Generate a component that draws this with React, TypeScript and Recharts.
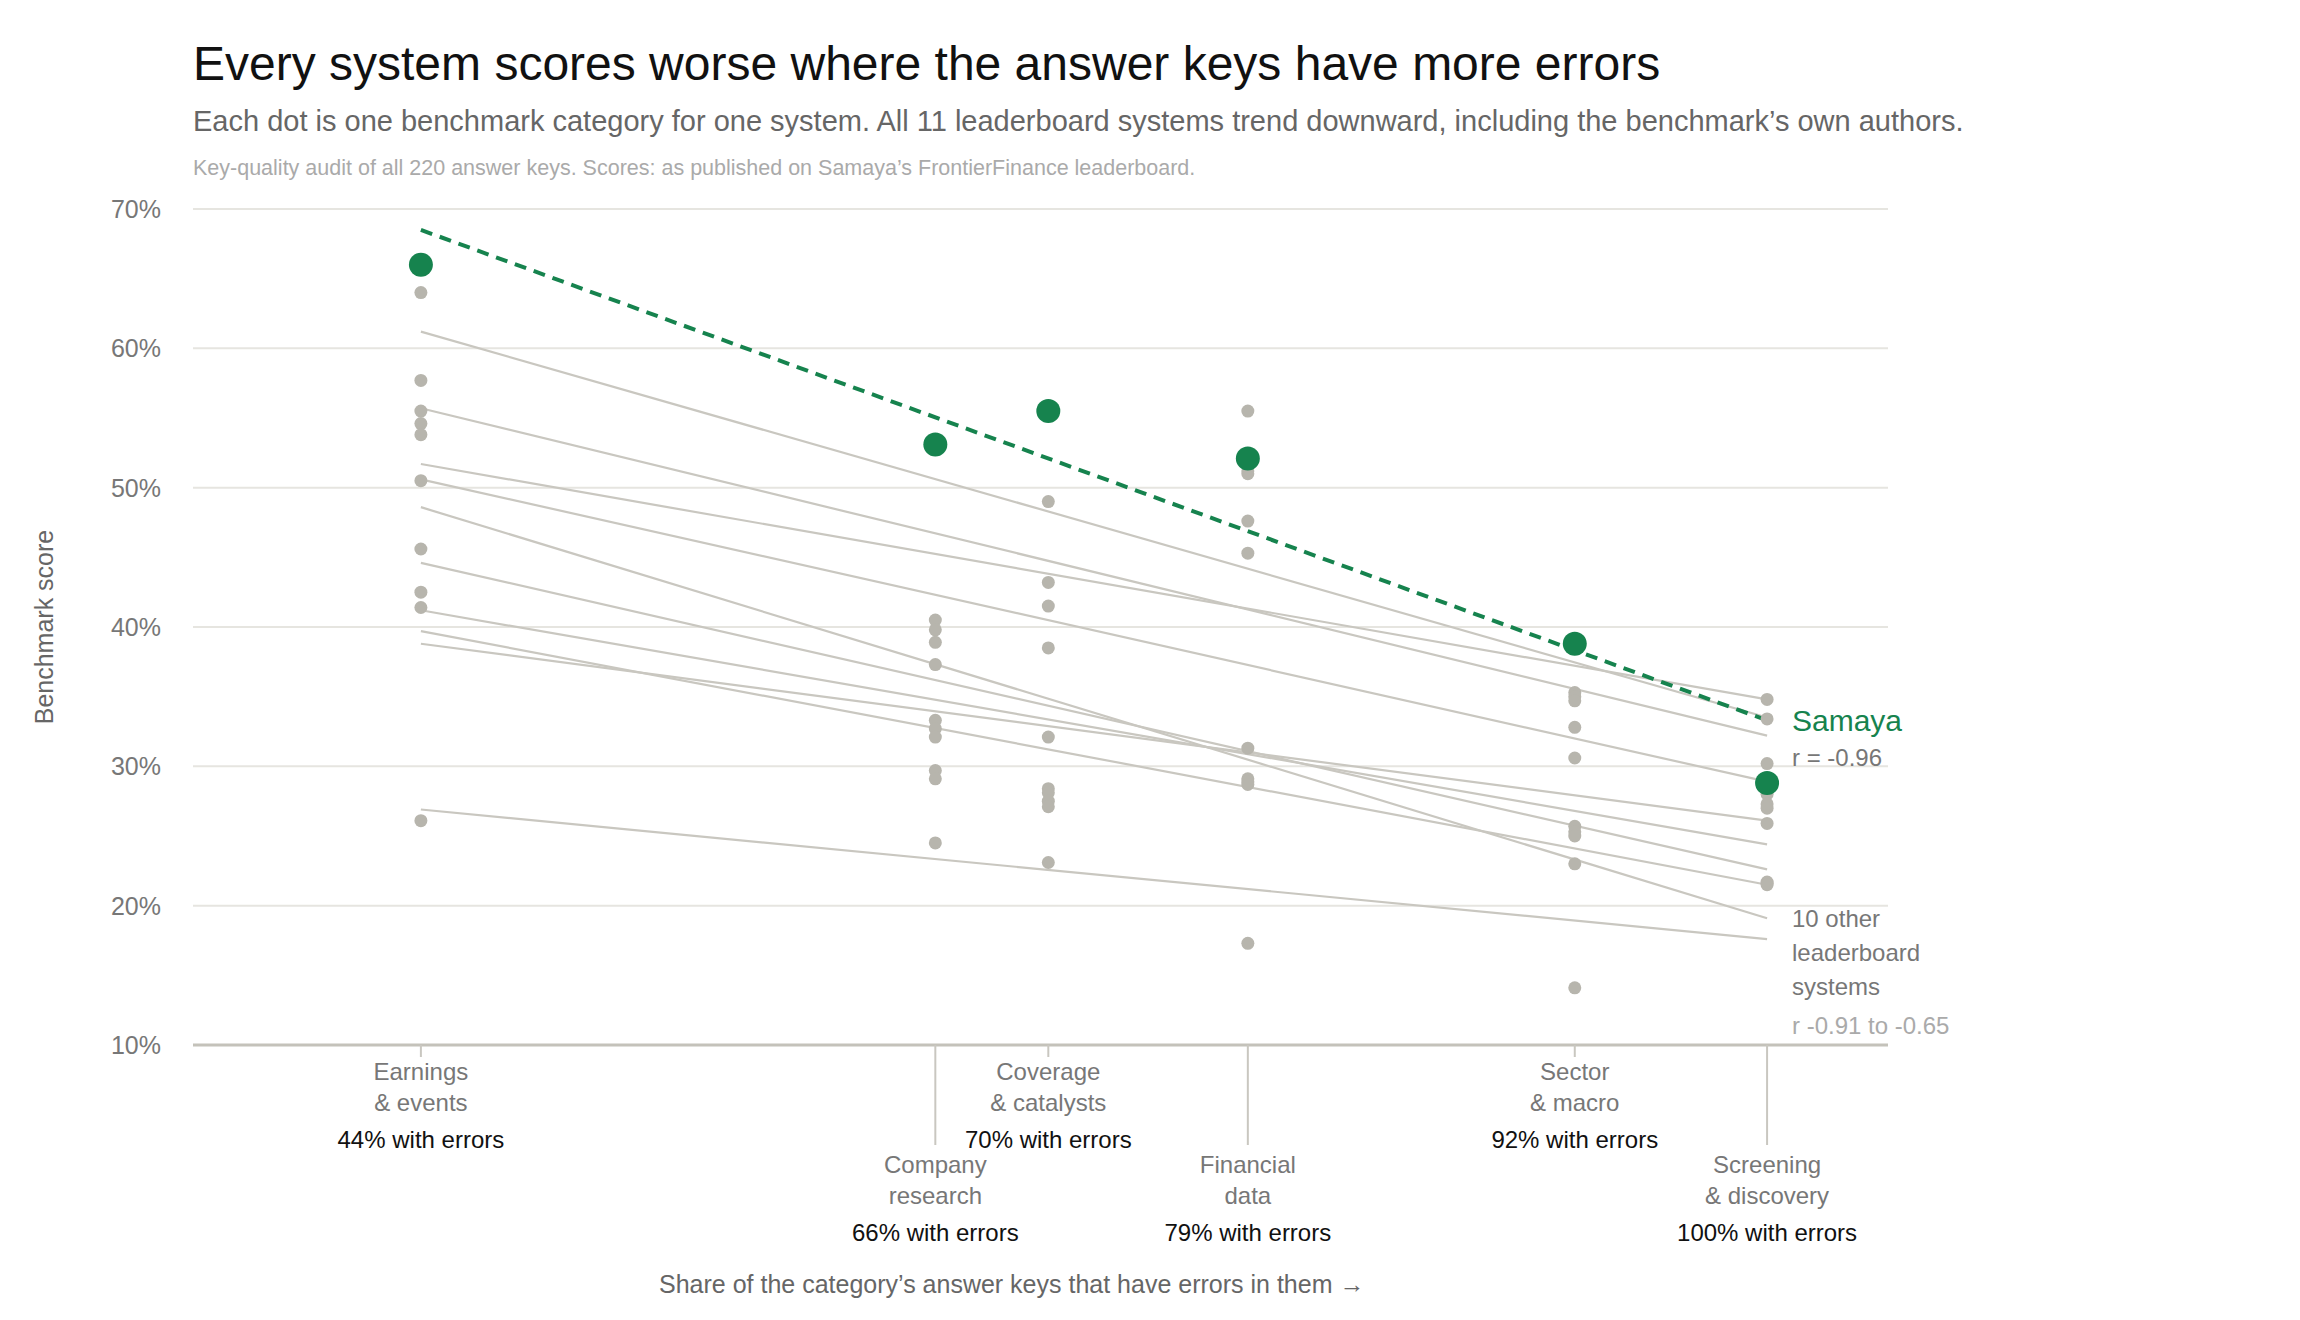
import React from "react";
import {
  ComposedChart,
  Line,
  Scatter,
  XAxis,
  YAxis,
  CartesianGrid,
} from "recharts";

const FONT = '"Liberation Sans", Arial, sans-serif';
const GREEN = "#16834e";
const DOT = "#b7b5ad";
const LINE = "#c9c7c0";

// category positions on the share-with-errors axis
const catX = [44, 65.4, 70.1, 78.4, 92, 100];
const catName = [
  ["Earnings", "& events"],
  ["Company", "research"],
  ["Coverage", "& catalysts"],
  ["Financial", "data"],
  ["Sector", "& macro"],
  ["Screening", "& discovery"],
];
const catShare = ["44%", "66%", "70%", "79%", "92%", "100%"];
const lowerRow = [false, true, false, true, false, true];

const samayaScores = [66.0, 53.1, 55.5, 52.1, 38.8, 28.8];
const samayaTrend = [68.5, 33.3];

const otherScores = [
  [64.0, 57.7, 55.5, 54.6, 53.8, 50.5, 45.6, 42.5, 41.4, 26.1],
  [40.5, 39.8, 38.9, 37.3, 33.3, 32.7, 32.1, 29.7, 29.1, 24.5],
  [49.0, 43.2, 41.5, 38.5, 32.1, 28.4, 28.1, 27.5, 27.1, 23.1],
  [55.5, 51.2, 51.0, 47.6, 45.3, 31.3, 29.1, 28.9, 28.7, 17.3],
  [35.3, 35.0, 34.7, 32.8, 30.6, 25.7, 25.3, 25.0, 23.0, 14.1],
  [34.8, 33.4, 30.2, 28.0, 27.3, 27.0, 25.9, 21.7, 21.6, 21.5],
];

// fitted trend lines for the other systems: [value at 44%, value at 100%]
const otherTrends = [
  [61.2, 33.5],
  [55.7, 32.2],
  [51.7, 34.8],
  [50.6, 28.9],
  [48.6, 19.1],
  [44.6, 22.6],
  [41.2, 24.4],
  [39.7, 21.5],
  [38.8, 26.1],
  [26.9, 17.6],
];

const yTicks = [10, 20, 30, 40, 50, 60, 70];

const grayDots = otherScores.flatMap((vals, i) =>
  vals.map((y) => ({ x: catX[i], y }))
);
const greenDots = samayaScores.map((y, i) => ({ x: catX[i], y }));
const trendX = [catX[0], catX[5]];

const YTick = (props: any) => {
  const { x, y, payload } = props;
  return (
    <text x={x - 24} y={y + 9} textAnchor="end" fontSize={25} fill="#777" fontFamily={FONT}>
      {payload.value}%
    </text>
  );
};

const XTick = (props: any) => {
  const { x, payload } = props;
  const y = 1045;
  const i = catX.indexOf(payload.value);
  if (i < 0) return null;
  const low = lowerRow[i];
  const base = low ? 128 : 35;
  return (
    <g>
      <line x1={x} x2={x} y1={y} y2={low ? y + 100 : y + 12} stroke={LINE} strokeWidth={2} />
      <text x={x} y={y + base} textAnchor="middle" fontSize={24} fill="#777" fontFamily={FONT}>
        {catName[i][0]}
      </text>
      <text x={x} y={y + base + 31} textAnchor="middle" fontSize={24} fill="#777" fontFamily={FONT}>
        {catName[i][1]}
      </text>
      <text x={x} y={y + base + 68} textAnchor="middle" fontSize={24} fill="#111" fontFamily={FONT}>
        {catShare[i]} with errors
      </text>
    </g>
  );
};

const dotShape = (r: number, fill: string) => (p: any) =>
  <circle cx={p.cx} cy={p.cy} r={r} fill={fill} />;

const txt = (top: number, left: number, size: number, color: string, s: string) => (
  <div style={{ position: "absolute", top, left, fontSize: size, color, fontFamily: FONT, whiteSpace: "nowrap", lineHeight: 1 }}>
    {s}
  </div>
);

export default function App() {
  return (
    <div style={{ position: "relative", width: 2300, height: 1320, background: "#fff", margin: -8 }}>
      {txt(40, 193, 48, "#111", "Every system scores worse where the answer keys have more errors")}
      {txt(107, 193, 29, "#666", "Each dot is one benchmark category for one system. All 11 leaderboard systems trend downward, including the benchmark\u2019s own authors.")}
      {txt(158, 193, 21.5, "#aaa", "Key-quality audit of all 220 answer keys. Scores: as published on Samaya\u2019s FrontierFinance leaderboard.")}
      <div style={{ position: "absolute", left: 30, top: 627, transform: "translate(-50%,-50%) rotate(-90deg)", transformOrigin: "center", fontSize: 25, color: "#666", fontFamily: FONT, whiteSpace: "nowrap", marginLeft: 14 }}>
        Benchmark score
      </div>
      <div style={{ position: "absolute", top: 0, left: 0 }}>
        <ComposedChart width={2300} height={1320} margin={{ top: 209, right: 412, bottom: 245, left: 163 }}>
          <CartesianGrid vertical={false} stroke="#e6e5e0" strokeWidth={2} />
          <XAxis
            type="number"
            dataKey="x"
            domain={[34.52, 105.03]}
            ticks={catX}
            allowDataOverflow
            tick={<XTick />}
            tickLine={false}
            axisLine={{ stroke: "#c4c2ba", strokeWidth: 3 }}
            height={30}
          />
          <YAxis
            type="number"
            dataKey="y"
            domain={[10, 70]}
            ticks={yTicks}
            tick={<YTick />}
            tickLine={false}
            axisLine={false}
            width={30}
          />
          {otherTrends.map((t, i) => (
            <Line
              key={i}
              data={trendX.map((x, j) => ({ x, y: t[j] }))}
              dataKey="y"
              stroke={LINE}
              strokeWidth={2.2}
              dot={false}
              isAnimationActive={false}
            />
          ))}
          <Scatter data={grayDots} shape={dotShape(6.5, DOT)} isAnimationActive={false} />
          <Line
            data={trendX.map((x, j) => ({ x, y: samayaTrend[j] }))}
            dataKey="y"
            stroke={GREEN}
            strokeWidth={4}
            strokeDasharray="12 8"
            dot={false}
            isAnimationActive={false}
          />
          <Scatter data={greenDots} shape={dotShape(12, GREEN)} isAnimationActive={false} />
        </ComposedChart>
      </div>
      {txt(706, 1792, 30, GREEN, "Samaya")}
      {txt(746, 1792, 24, "#777", "r = -0.96")}
      {txt(907, 1792, 24, "#777", "10 other")}
      {txt(941, 1792, 24, "#777", "leaderboard")}
      {txt(975, 1792, 24, "#777", "systems")}
      {txt(1014, 1792, 24, "#aaa", "r -0.91 to -0.65")}
      {txt(1272, 659, 25, "#666", "Share of the category\u2019s answer keys that have errors in them \u2192")}
    </div>
  );
}
